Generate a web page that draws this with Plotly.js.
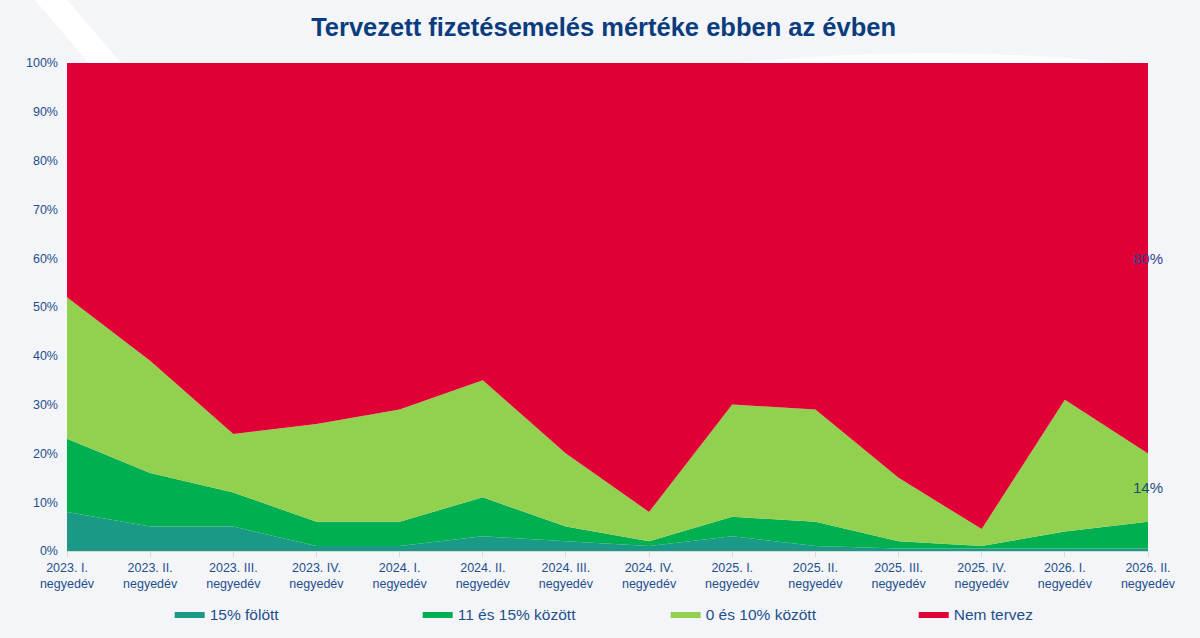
<!DOCTYPE html>
<html>
<head>
<meta charset="utf-8">
<script src="https://cdn.plot.ly/plotly-3.0.1.min.js"></script>
<style>
  html, body { margin: 0; padding: 0; background: #f3f5f9; }
  #chart { width: 1200px; height: 638px; }
</style>
</head>
<body>
<div id="chart"></div>
<script>
"use strict";

var quarters = [
    '2023. I.<br>negyedév', '2023. II.<br>negyedév', '2023. III.<br>negyedév', '2023. IV.<br>negyedév',
    '2024. I.<br>negyedév', '2024. II.<br>negyedév', '2024. III.<br>negyedév', '2024. IV.<br>negyedév',
    '2025. I.<br>negyedév', '2025. II.<br>negyedév', '2025. III.<br>negyedév', '2025. IV.<br>negyedév',
    '2026. I.<br>negyedév', '2026. II.<br>negyedév'
];

var above15 = [8, 5, 5, 1, 1, 3, 2, 1, 3, 1, 0.5, 0.5, 0.5, 0.5];
var between11and15 = [15, 11, 7, 5, 5, 8, 3, 1, 4, 5, 1.5, 0.5, 3.5, 5.5];
var between0and10 = [29, 23, 12, 20, 23, 24, 15, 6, 23, 23, 13, 3.5, 27, 14];
var noRaise = [48, 61, 76, 74, 71, 65, 80, 92, 70, 71, 85, 95.5, 69, 80];

var seriesNames = ['15% fölött', '11 és 15% között', '0 és 10% között', 'Nem tervez'];
var seriesColors = ['#1a9986', '#00b050', '#92d050', '#e10036'];

var navy = '#1f4e8c';

function areaTrace(values, i) {
    return {
        x: quarters,
        y: values,
        name: seriesNames[i],
        type: 'scatter',
        mode: 'lines',
        stackgroup: 'one',
        line: { width: 0, color: seriesColors[i] },
        fillcolor: seriesColors[i],
        hoverinfo: 'skip'
    };
}

var all = [above15, between11and15, between0and10, noRaise];
var traces = all.map(areaTrace);

// labels at the last quarter, in the middle of the two top segments
var last = quarters.length - 1;
function cum(k) {
    var s = 0;
    for (var j = 0; j < k; j++) s += all[j][last];
    return s;
}
var labels = [2, 3].map(function (k) {
    return {
        x: quarters[last],
        y: cum(k) + all[k][last] / 2,
        text: Math.round(all[k][last]) + '%',
        showarrow: false,
        xanchor: 'center',
        font: { family: 'Liberation Sans, Arial', size: 15, color: k === 3 ? '#3c3f8f' : '#1f4e79' }
    };
});

var layout = {
    width: 1200,
    height: 638,
    paper_bgcolor: '#f3f5f9',
    plot_bgcolor: 'rgba(0,0,0,0)',
    margin: { l: 67, r: 52, t: 63, b: 87, autoexpand: false },
    title: {
        text: '<b>Tervezett fizetésemelés mértéke ebben az évben</b>',
        font: { family: 'Liberation Sans, Arial', size: 25.5, color: '#0b3d7e' },
        x: 0.503,
        xanchor: 'center',
        y: 0.958,
        yanchor: 'middle',
        yref: 'container'
    },
    xaxis: {
        type: 'category',
        range: [0, quarters.length - 1],
        showgrid: false,
        zeroline: false,
        showline: true,
        linecolor: '#d9d9d9',
        ticks: 'outside',
        ticklen: 5,
        tickcolor: '#d9d9d9',
        tickfont: { family: 'Liberation Sans, Arial', size: 12.5, color: navy },
        fixedrange: true
    },
    yaxis: {
        range: [0, 100],
        dtick: 10,
        ticksuffix: '%',
        showgrid: false,
        zeroline: false,
        showline: false,
        ticklabelstandoff: 8,
        tickfont: { family: 'Liberation Sans, Arial', size: 12.5, color: navy },
        fixedrange: true
    },
    showlegend: true,
    legend: {
        orientation: 'h',
        x: 0.095,
        xanchor: 'left',
        y: -0.13,
        yanchor: 'middle',
        entrywidth: 203,
        entrywidthmode: 'pixels',
        itemwidth: 30,
        traceorder: 'normal',
        font: { family: 'Liberation Sans, Arial', size: 15.5, color: navy },
        bgcolor: 'rgba(0,0,0,0)'
    },
    annotations: labels,
    shapes: [
        { type: 'path', xref: 'paper', yref: 'paper', layer: 'below',
          path: 'M -0.03 1.13 L 0.0 1.13 L 0.05 1.0 L 0.02 1.0 Z',
          fillcolor: '#ffffff', line: { width: 0 } },
        { type: 'path', xref: 'paper', yref: 'paper', layer: 'below',
          path: 'M 0.62 1.0 Q 0.8 1.04 0.98 1.0 Z',
          fillcolor: '#ffffff', line: { width: 0 } }
    ]
};

Plotly.newPlot('chart', traces, layout, { displayModeBar: false, staticPlot: true });
</script>
</body>
</html>
